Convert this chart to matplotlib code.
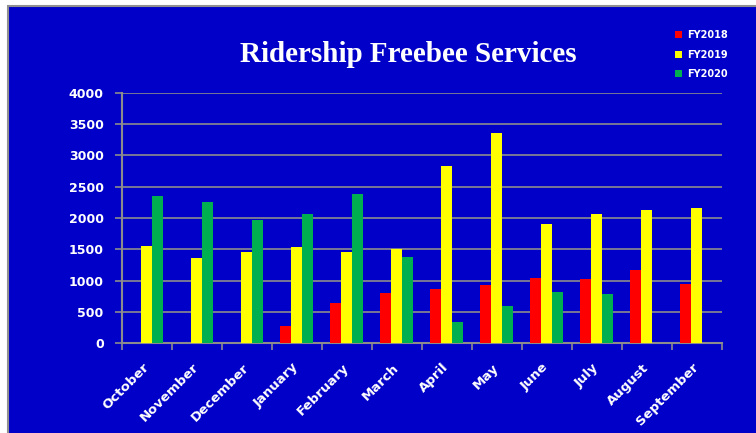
import matplotlib.pyplot as plt
import numpy as np
from matplotlib.patches import Rectangle

months = ['October', 'November', 'December', 'January', 'February', 'March',
          'April', 'May', 'June', 'July', 'August', 'September']
fy2018 = [0, 0, 0, 277, 644, 809, 867, 926, 1048, 1027, 1176, 952]
fy2019 = [1559, 1356, 1457, 1543, 1457, 1500, 2824, 3356, 1910, 2069, 2133, 2154]
fy2020 = [2356, 2255, 1968, 2069, 2378, 1372, 335, 601, 824, 782, 0, 0]
series = ['FY2018', 'FY2019', 'FY2020']
colors = ['#FF0000', '#FFFF00', '#00B050']

bg = '#0000C8'
grid = '#8C8C8C'

fig = plt.figure(figsize=(7.56, 4.33), dpi=100, facecolor='white')
# blue panel with grey border on left/top
fig.patches.append(Rectangle((7.5 / 756, -0.02), 1.0, 1.02 - 5.5 / 433,
                             transform=fig.transFigure, facecolor=bg,
                             edgecolor='#909090', lw=1.5, zorder=-10))

ax = fig.add_axes([121.7 / 756, 1 - 343.3 / 433, 600 / 756, (343.3 - 92.7) / 433])
ax.set_facecolor('none')

x = np.arange(len(months))
w = 0.22
for k, (vals, c, lab) in enumerate(zip([fy2018, fy2019, fy2020], colors, series)):
    ax.bar(x + (k - 1) * w, vals, width=w, color=c, label=lab, zorder=3)

ax.set_xlim(-0.5, len(months) - 0.5)
ax.set_ylim(0, 4000)
ax.set_yticks(np.arange(0, 4001, 500))
ax.yaxis.grid(True, color=grid, lw=1.2, zorder=1)
ax.set_axisbelow(True)

ax.set_xticks(x)
ax.set_xticklabels(months, rotation=45, ha='right', va='center', rotation_mode='anchor',
                   fontsize=9.5, fontweight='bold', color='white')
ax.set_xticks(np.arange(-0.5, len(months)), minor=True)
ax.tick_params(axis='x', which='major', length=0, pad=16)
ax.tick_params(axis='x', which='minor', length=5, color=grid, width=1.2)
ax.tick_params(axis='y', length=5, color=grid, width=1.2, pad=8,
               labelsize=9, labelcolor='white')
for t in ax.get_yticklabels():
    t.set_fontweight('bold')

for s in ['top', 'right']:
    ax.spines[s].set_visible(False)
for s in ['left', 'bottom']:
    ax.spines[s].set_color(grid)
    ax.spines[s].set_linewidth(1.5)

fig.text(408 / 756, 1 - 54 / 433, 'Ridership Freebee Services', ha='center', va='center',
         fontsize=21, fontweight='bold', color='white', family='Liberation Serif')

leg = fig.legend(loc='upper left', bbox_to_anchor=(670 / 756, 1 - 25 / 433), frameon=False,
                 fontsize=7, handlelength=0.7, handleheight=0.7, handletextpad=0.6,
                 labelspacing=1.0, borderpad=0)
for t in leg.get_texts():
    t.set_color('white')
    t.set_fontweight('bold')

fig.savefig('out.png', dpi=100, facecolor='white')
